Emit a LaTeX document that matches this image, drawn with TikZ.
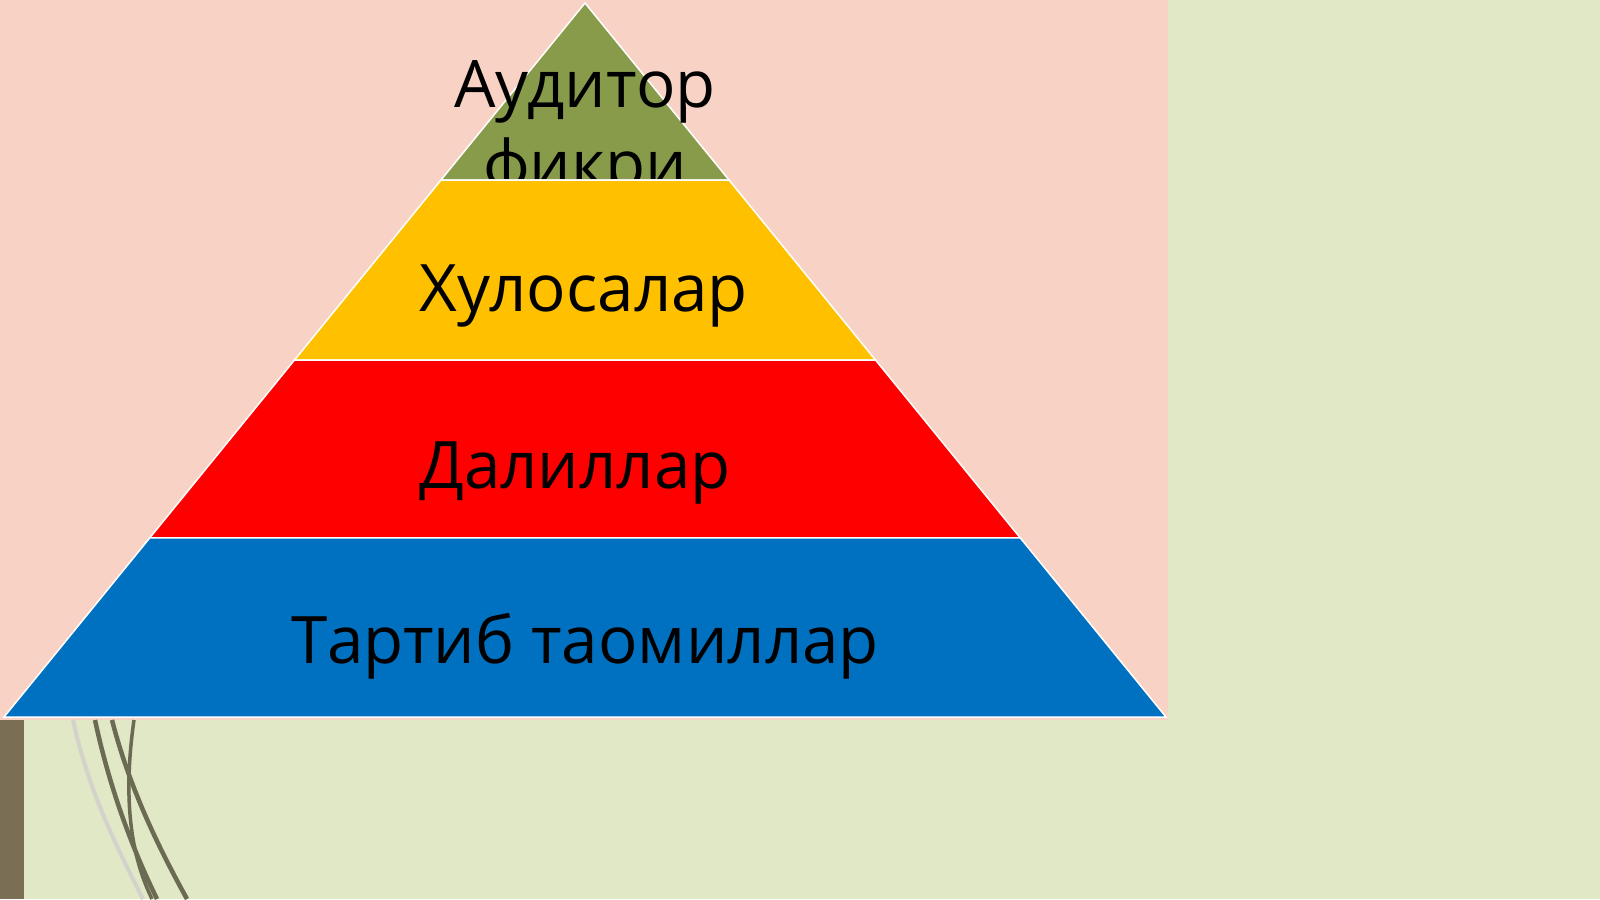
\documentclass[tikz,border=0pt]{standalone}
\usepackage{fontspec}
\setmainfont{Open Sans}
\usetikzlibrary{calc}
\definecolor{bgg}{HTML}{E0E8C6}
\definecolor{pinkbg}{HTML}{F8D3C5}
\definecolor{lgreen}{HTML}{879B4B}
\definecolor{lyellow}{HTML}{FFC000}
\definecolor{lred}{HTML}{FF0000}
\definecolor{lblue}{HTML}{0070C0}
\definecolor{barc}{HTML}{7A6E55}
\definecolor{curvec}{HTML}{6B6A52}
\begin{document}
\begin{tikzpicture}[x=1pt,y=-1pt,
  layer/.style={draw=white,line width=1.5pt,line join=miter},
  lab/.style={font=\fontsize{65.5}{78}\selectfont,text=black,inner sep=0pt,anchor=base},
  wire/.style={draw=curvec,line width=4.5pt}]
\useasboundingbox (0,0) rectangle (1600,899);
\fill[bgg] (0,0) rectangle (1600,899);
\fill[pinkbg] (0,0) rectangle (1168,720);
\fill[barc] (0,720) rectangle (24,899);
% curves
\draw[draw=curvec!30,line width=4pt] (73,720) .. controls (88,790) and (118,850) .. (143,899);
\draw[wire] (95,720) .. controls (110,790) and (133,850) .. (157,899);
\draw[wire] (112,720) .. controls (130,790) and (160,850) .. (187,899);
\draw[wire,line width=3.5pt] (134,720) .. controls (124,790) and (128,850) .. (152,899);
% pyramid
\coordinate (apex) at (585,3);
\coordinate (bl) at (4,717);
\coordinate (br) at (1166,717);
\path[layer,fill=lgreen] (apex) -- ($(apex)!0.248!(br)$) -- ($(apex)!0.248!(bl)$) -- cycle;
\begin{scope}
\clip (0,0) rectangle (1168,178);
\node[lab] (t1) at (585,107) {Аудитор};
\node[lab] (t1b) at (585,187) {фикри};
\end{scope}
\path[layer,fill=lyellow] ($(apex)!0.248!(bl)$) -- ($(apex)!0.248!(br)$) -- ($(apex)!0.50!(br)$) -- ($(apex)!0.50!(bl)$) -- cycle;
\path[layer,fill=lred] ($(apex)!0.50!(bl)$) -- ($(apex)!0.50!(br)$) -- ($(apex)!0.749!(br)$) -- ($(apex)!0.749!(bl)$) -- cycle;
\path[layer,fill=lblue] ($(apex)!0.749!(bl)$) -- ($(apex)!0.749!(br)$) -- (br) -- (bl) -- cycle;
\node[lab] (t2) at (584,311) {Хулосалар};
\node[lab] (t3) at (575,488) {Далиллар};
\node[lab] (t4) at (585,663) {Тартиб таомиллар};
\end{tikzpicture}
\end{document}
